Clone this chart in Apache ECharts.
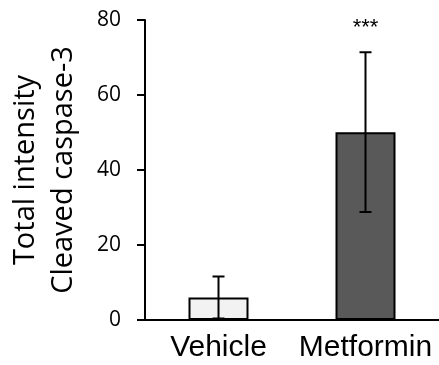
<!DOCTYPE html>
<html>
<head>
<meta charset="utf-8">
<script src="https://cdn.jsdelivr.net/npm/echarts@6/dist/echarts.min.js"></script>
<style>html,body{margin:0;padding:0;background:#fff}#c{width:439px;height:365px}</style>
</head>
<body>
<div id="c"></div>
<script>
var categories = ['Vehicle', 'Metformin'];
var means = [6.0, 50.1];
var errors = [5.6, 21.3];
var significance = ['', '***'];
var yTicks = [0, 20, 40, 60, 80];
var barColors = ['#f2f2f2', '#595959'];

var chart = echarts.init(document.getElementById('c'), null, {renderer: 'canvas'});
var option = {
  animation: false,
  grid: {left: 145, right: 0, top: 20, bottom: 45, containLabel: false, outerBoundsMode: 'none'},
  xAxis: {
    type: 'category',
    data: categories,
    axisLine: {lineStyle: {color: '#000', width: 2}},
    axisTick: {show: false},
    axisLabel: {color: '#000', fontSize: 30, fontFamily: 'Liberation Sans', margin: 13, interval: 0, hideOverlap: false}
  },
  yAxis: {
    type: 'value',
    min: yTicks[0], max: yTicks[yTicks.length - 1], interval: 20,
    name: 'Total intensity\nCleaved caspase-3',
    nameLocation: 'middle',
    nameGap: 62,
    nameTextStyle: {color: '#000', fontSize: 29, fontFamily: 'Open Sans', lineHeight: 38},
    axisLine: {show: true, lineStyle: {color: '#000', width: 2}},
    axisTick: {show: true, length: 8, lineStyle: {color: '#000', width: 2}},
    axisLabel: {color: '#000', fontSize: 21, fontFamily: 'Open Sans', margin: 24},
    splitLine: {show: false}
  },
  series: [
    {
      type: 'bar',
      data: means.map(function (v, i) {
        return {value: v, itemStyle: {color: barColors[i]}};
      }),
      barWidth: 60,
      itemStyle: {borderColor: '#000', borderWidth: 2}
    },
    {
      type: 'custom',
      data: means.map(function (v, i) { return [i, v, errors[i]]; }),
      z: 10,
      renderItem: function (params, api) {
        var i = api.value(0), m = api.value(1), e = api.value(2);
        var top = api.coord([i, m + e]);
        var bot = api.coord([i, m - e]);
        var hw = 6;
        var style = {stroke: '#000', lineWidth: 2};
        var children = [
          {type: 'line', shape: {x1: top[0], y1: top[1], x2: bot[0], y2: bot[1]}, style: style},
          {type: 'line', shape: {x1: top[0] - hw, y1: top[1], x2: top[0] + hw, y2: top[1]}, style: style},
          {type: 'line', shape: {x1: bot[0] - hw, y1: bot[1], x2: bot[0] + hw, y2: bot[1]}, style: style}
        ];
        var s = significance[params.dataIndex];
        if (s) {
          children.push({type: 'text', style: {text: s, x: top[0], y: top[1] - 24, align: 'center', verticalAlign: 'middle', fill: '#000', font: '22px "Liberation Sans"'}});
        }
        return {type: 'group', children: children};
      }
    }
  ]
};
chart.setOption(option);
</script>
</body>
</html>
